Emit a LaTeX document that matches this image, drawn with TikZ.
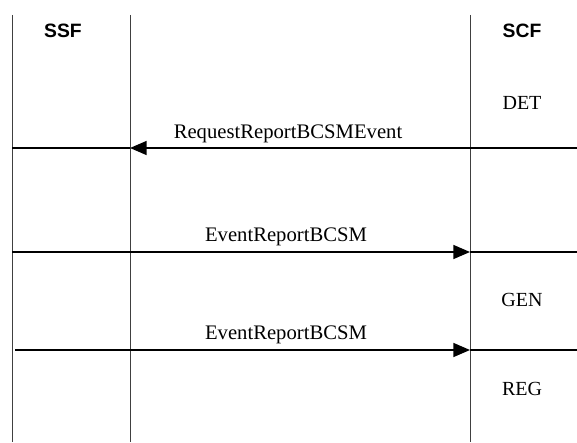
\documentclass[tikz,border=0pt]{standalone}
\usepackage{fontspec}
\setmainfont{Liberation Serif}
\setsansfont{Liberation Sans}
\usetikzlibrary{arrows.meta}

\begin{document}
\begin{tikzpicture}[x=0.75pt,y=-0.75pt,
  life/.style={draw=black!75,line width=.7pt},
  msg/.style={-{Triangle[length=12.5pt,width=10.5pt]},line width=1.1pt},
  plain/.style={line width=1.1pt},
  party/.style={font=\sffamily\bfseries\fontsize{14.5}{17}\selectfont},
  label/.style={font=\fontsize{15.5}{18}\selectfont},
  state/.style={font=\fontsize{15}{18}\selectfont}]
\useasboundingbox (0,0) rectangle (577,442);
\fill[white] (0,0) rectangle (577,442);

% lifelines
\coordinate (ssfTop) at (12,15);   \coordinate (ssfBot) at (12,442);
\coordinate (midTop) at (130,15);  \coordinate (midBot) at (130,442);
\coordinate (scfTop) at (470,15);  \coordinate (scfBot) at (470,442);
\draw[life] (ssfTop) -- (ssfBot);
\draw[life] (midTop) -- (midBot);
\draw[life] (scfTop) -- (scfBot);

\node[party] (ssf) at (63,31) {SSF};
\node[party] (scf) at (522,31) {SCF};

% SCF states
\node[state] (det) at (522,103) {DET};
\node[state] (gen) at (522,300) {GEN};
\node[state] (reg) at (522,389) {REG};

% message 1: SCF -> SSF
\coordinate (reqR) at (577,148); \coordinate (reqTip) at (130,148); \coordinate (reqL) at (12,148);
\draw[msg] (reqR) -- (reqTip);
\draw[plain] (reqTip) -- (reqL);
\node[label] (req) at (288,134) {RequestReportBCSMEvent};

% message 2: SSF -> SCF
\coordinate (ev1L) at (12,252); \coordinate (ev1Tip) at (470,252); \coordinate (ev1R) at (577,252);
\draw[msg] (ev1L) -- (ev1Tip);
\draw[plain] (ev1Tip) -- (ev1R);
\node[label] (ev1) at (286,237) {EventReportBCSM};

% message 3: SSF -> SCF
\coordinate (ev2L) at (15,350); \coordinate (ev2Tip) at (470,350); \coordinate (ev2R) at (577,350);
\draw[msg] (ev2L) -- (ev2Tip);
\draw[plain] (ev2Tip) -- (ev2R);
\node[label] (ev2) at (286,335) {EventReportBCSM};
\end{tikzpicture}
\end{document}
